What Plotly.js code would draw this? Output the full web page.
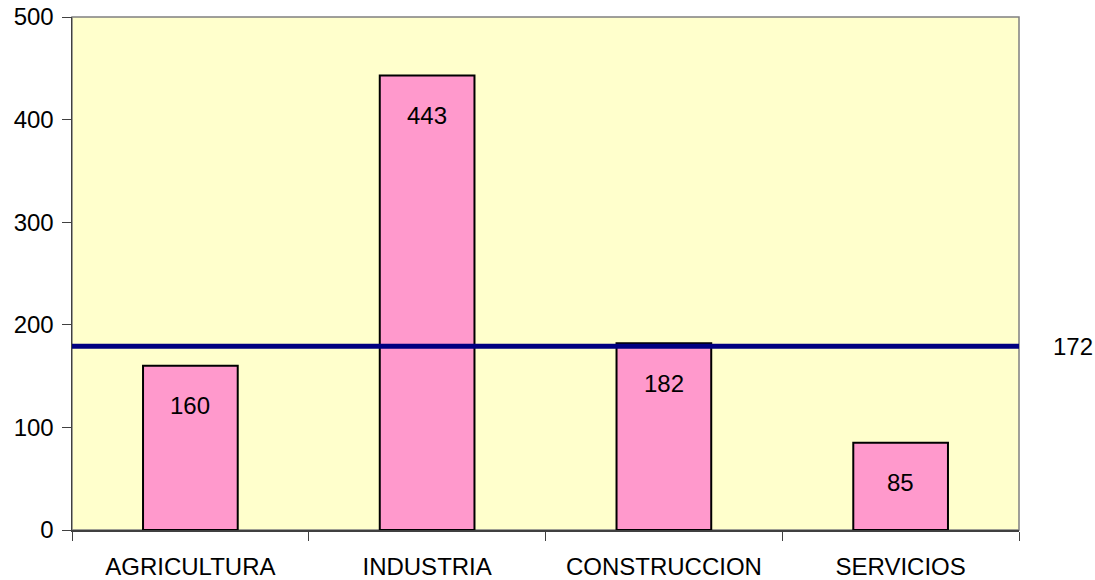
<!DOCTYPE html>
<html>
<head>
<meta charset="utf-8">
<script src="https://cdn.plot.ly/plotly-3.0.1.min.js"></script>
<style>html,body{margin:0;padding:0;background:#fff;}#chart{width:1095px;height:580px;}</style>
</head>
<body>
<div id="chart"></div>
<script>
const categories = ["AGRICULTURA", "INDUSTRIA", "CONSTRUCCION", "SERVICIOS"];
const values = [160, 443, 182, 85];
const refLineValue = 179;
const refLineLabel = "172";
const yTicks = [0, 100, 200, 300, 400, 500];

const FONT = "Liberation Sans, Arial, sans-serif";
const FS = 24;

const trace = {
  type: "bar",
  x: categories,
  y: values,
  marker: { color: "#FF99CC", line: { color: "#000000", width: 2 } },
  hoverinfo: "x+y"
};

const annotations = categories.map((c, i) => ({
  x: c, y: values[i], xref: "x", yref: "y",
  text: String(values[i]), showarrow: false,
  yshift: -40, font: { family: FONT, size: FS, color: "#000" }
}));
annotations.push({
  xref: "paper", x: 1, xanchor: "left", xshift: 32,
  yref: "y", y: refLineValue, text: refLineLabel, showarrow: false,
  font: { family: FONT, size: FS, color: "#000" }
});

const layout = {
  width: 1095, height: 580,
  margin: { l: 72, r: 76, t: 17, b: 50 },
  paper_bgcolor: "#FFFFFF",
  plot_bgcolor: "#FFFFCC",
  showlegend: false,
  bargap: 0.6,
  font: { family: FONT, size: FS, color: "#000" },
  xaxis: {
    type: "category",
    tickson: "boundaries",
    ticks: "outside", ticklen: 9, tickcolor: "#404040", tickwidth: 1,
    showline: true, linecolor: "#404040", linewidth: 1.5,
    showgrid: false, zeroline: false,
    ticklabelstandoff: 15,
    tickfont: { family: FONT, size: FS, color: "#000" }
  },
  yaxis: {
    range: [0, 500],
    tickvals: yTicks,
    ticktext: yTicks.map(String),
    ticks: "outside", ticklen: 9, tickcolor: "#404040", tickwidth: 1,
    showline: true, linecolor: "#404040", linewidth: 1.5,
    showgrid: false, zeroline: false,
    ticklabelstandoff: 3,
    tickfont: { family: FONT, size: FS, color: "#000" }
  },
  shapes: [
    { type: "rect", xref: "paper", yref: "paper", x0: 0, x1: 1, y0: 0, y1: 1,
      line: { color: "#808080", width: 1.5 }, layer: "below" },
    { type: "line", xref: "paper", x0: 0, x1: 1, yref: "y",
      y0: refLineValue, y1: refLineValue,
      line: { color: "#000080", width: 5 }, layer: "above" }
  ],
  annotations: annotations
};

Plotly.newPlot("chart", [trace], layout, { displayModeBar: false, staticPlot: true });
</script>
</body>
</html>
